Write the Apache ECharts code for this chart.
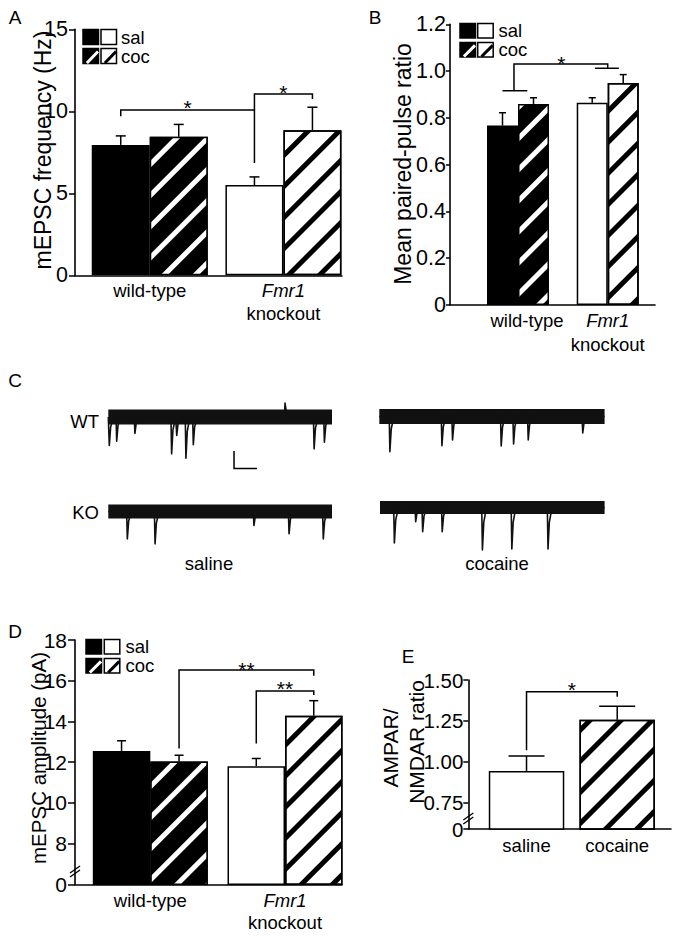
<!DOCTYPE html>
<html>
<head>
<meta charset="utf-8">
<script src="https://cdn.jsdelivr.net/npm/echarts@6.0.0/dist/echarts.min.js"></script>
<style>html,body{margin:0;padding:0;background:#fff;} #chart{width:680px;height:936px;}</style>
</head>
<body>
<div id="chart"></div>
<script>
// ================= DATA =================
const genotypes = ['wild-type', 'Fmr1 knockout'];
const treatments = ['sal', 'coc'];

// Panel A - mEPSC frequency (Hz)
const freqSal = [7.95, 5.5];
const freqSalSem = [0.55, 0.5];
const freqCoc = [8.45, 8.85];
const freqCocSem = [0.75, 1.4];
const freqTicks = [0, 5, 10, 15];
const freqTickLabels = ['0', '5', '10', '15'];

// Panel B - mean paired-pulse ratio
const pprSal = [0.767, 0.865];
const pprSalSem = [0.055, 0.021];
const pprCoc = [0.859, 0.949];
const pprCocSem = [0.027, 0.036];
const pprTicks = [0, 0.2, 0.4, 0.6, 0.8, 1.0, 1.2];
const pprTickLabels = ['0', '0.2', '0.4', '0.6', '0.8', '1.0', '1.2'];

// Panel D - mEPSC amplitude (pA), broken axis (6 is drawn as the "0" after the break)
const ampSal = [12.55, 11.8];
const ampSalSem = [0.5, 0.38];
const ampCoc = [12.03, 14.28];
const ampCocSem = [0.31, 0.74];
const ampTicks = [6, 8, 10, 12, 14, 16, 18];
const ampTickLabels = ['0', '8', '10', '12', '14', '16', '18'];

// Panel E - AMPAR/NMDAR ratio, broken axis
const drugs = ['saline', 'cocaine'];
const anRatio = [0.943, 1.257];
const anRatioSem = [0.092, 0.082];
const anTicks = [0.587, 0.75, 1.0, 1.25, 1.5];
const anTickLabels = ['0', '0.75', '1.00', '1.25', '1.50'];

// Significance brackets: polyline points [group, offset in bar widths, value]
const freqBrackets = [
  [[0, -0.5, 9.7], [0, -0.5, 10.08], [1, -0.5, 10.08]],
  [[1, -0.5, 6.85], [1, -0.5, 11.05], [1, 0.5, 11.05], [1, 0.5, 10.75]]
];
const freqStars = [[0.5, -0.5, 10.5, '*'], [1, 0, 11.42, '*']];
const pprBrackets = [
  [[0, -0.5, 0.916], [0, 0.3, 0.916]],
  [[0, -0.13, 0.916], [0, -0.13, 1.03], [1, 0, 1.03], [1, 0, 1.012]],
  [[1, -0.41, 1.012], [1, 0.36, 1.012]]
];
const pprStars = [[0.5, -0.05, 1.052, '*']];
const ampBrackets = [
  [[0, 0.5, 12.67], [0, 0.5, 16.53], [1, 0.5, 16.53], [1, 0.5, 16.25]],
  [[1, -0.5, 12.92], [1, -0.5, 15.49], [1, 0.5, 15.49], [1, 0.5, 15.3]]
];
const ampStars = [[0.5, 0.5, 16.77, '**'], [1, 0, 15.84, '**']];
const anBrackets = [
  [[0, 0, 1.07], [0, 0, 1.428], [1, 0, 1.428], [1, 0, 1.398]]
];
const anStars = [[0.5, 0, 1.469, '*']];

// Panel C - example traces: events [time (% of sweep), amplitude (pA, inward)]
const traceWTsaline = [[0.45, 16.5], [3.75, 14], [11.9, 9.5], [28.3, 21.3], [30.6, 10.7], [34.7, 23.8], [38, 16], [79, -8], [92, 18.4], [96.6, 14.6]];
const traceWTcocaine = [[4.7, 20.3], [27.8, 16.9], [32.5, 13.6], [54.1, 17], [59.6, 15.9], [66.1, 13.6], [90.3, 9.5]];
const traceKOsaline = [[8.5, 15.8], [20.9, 18.7], [65.1, 8.1], [80.8, 12.9], [96.1, 15.8]];
const traceKOcocaine = [[6.4, 20.5], [15.9, 8.2], [19, 14], [27.7, 14], [45.6, 24.6], [58.7, 24], [74.8, 24]];
const scaleBarPA = 10;      // vertical scale bar (pA)
const scaleBarPct = 10.3;   // horizontal scale bar (% of sweep)

// ================= RENDER =================
const FONT = "'Liberation Sans', Arial, Helvetica, sans-serif";
const BLACK = '#000000';
const WHITE = '#ffffff';

function stripeDecal(color) {
  return { symbol: 'rect', symbolSize: 1, color: color, dashArrayX: [1, 0], dashArrayY: [4.5, 16.5], rotation: -Math.PI / 4 };
}

function tickFormatter(values, labels) {
  return function (v) {
    const i = values.findIndex(t => Math.abs(t - v) < 1e-6);
    return i >= 0 ? labels[i] : '';
  };
}

function genotypeLabel(name, padWT) {
  if (name.indexOf('Fmr1') === 0) return '{i|Fmr1}\n{n|knockout}';
  return padWT ? '{nb|' + name + '}' : '{n|' + name + '}';
}

function richCat(fs, lh) {
  return {
    n: { fontSize: fs, fontFamily: FONT, color: BLACK, lineHeight: lh },
    nb: { fontSize: fs, fontFamily: FONT, color: BLACK, lineHeight: lh, padding: [0, 0, 0, 18] },
    i: { fontSize: fs, fontFamily: FONT, color: BLACK, lineHeight: lh, fontStyle: 'italic' }
  };
}

const grids = [], xAxes = [], yAxes = [], series = [], graphics = [];

function addBarPanel(p) {
  const gi = grids.length;
  grids.push({ left: p.left, top: p.top, width: p.width, height: p.height });
  xAxes.push({
    gridIndex: gi, type: 'value', min: p.xMin, max: p.xMax,
    axisLine: { show: true, onZero: false, lineStyle: { color: BLACK, width: 1.6 } },
    axisTick: { show: false }, splitLine: { show: false },
    axisLabel: {
      show: true, customValues: p.cats.map((c, i) => i),
      formatter: v => p.catFmt(p.cats[Math.round(v)]),
      margin: p.catMargin, rich: richCat(18.5, p.catLH)
    }
  });
  yAxes.push({
    gridIndex: gi, type: 'value', min: p.yMin, max: p.yMax,
    axisLine: { show: true, onZero: false, lineStyle: { color: BLACK, width: 1.6 } },
    axisTick: { show: true, inside: false, length: p.tickLen, customValues: p.ticks, lineStyle: { color: BLACK, width: 1.5 } },
    axisLabel: { show: true, customValues: p.ticks, formatter: tickFormatter(p.ticks, p.tickLabels), margin: p.labelMargin, color: BLACK, fontFamily: FONT, fontSize: p.tickFont },
    splitLine: { show: false }
  });
  p.bars.forEach(b => {
    series.push({
      type: 'bar', xAxisIndex: gi, yAxisIndex: gi, barWidth: p.barW, barGap: '0%', silent: true, animation: false, clip: true, z: 2,
      itemStyle: { borderColor: BLACK, borderWidth: 1.5 },
      data: b.mean.map((v, g) => ({
        value: [g, v],
        itemStyle: b.hatch[g] ? { color: p.fill[g], decal: stripeDecal(p.stripe[g]) } : { color: p.fill[g] }
      }))
    });
  });
  p.bars.forEach((b, bi) => {
    const off = bi - (p.bars.length - 1) / 2;
    series.push({
      type: 'custom', xAxisIndex: gi, yAxisIndex: gi, silent: true, animation: false, z: 3,
      data: b.mean.map((v, g) => [g, v, v + b.sem[g]]),
      renderItem: function (params, api) {
        const lo = api.coord([api.value(0), api.value(1)]);
        const hi = api.coord([api.value(0), api.value(2)]);
        const x = lo[0] + off * p.barW;
        return {
          type: 'group', children: [
            { type: 'line', shape: { x1: x, y1: lo[1], x2: x, y2: hi[1] }, style: { stroke: BLACK, lineWidth: 1.5 } },
            { type: 'line', shape: { x1: x - p.cap / 2, y1: hi[1], x2: x + p.cap / 2, y2: hi[1] }, style: { stroke: BLACK, lineWidth: 1.5 } }
          ]
        };
      }
    });
  });
  series.push({
    type: 'custom', xAxisIndex: gi, yAxisIndex: gi, silent: true, animation: false, z: 5,
    data: [[0, p.yMax]],
    renderItem: function (params, api) {
      const P = (g, o, y) => { const c = api.coord([g, y]); return [c[0] + o * p.barW, c[1]]; };
      const children = p.brackets.map(b => ({
        type: 'polyline', shape: { points: b.map(q => P(q[0], q[1], q[2])) },
        style: { stroke: BLACK, lineWidth: 1.5, fill: null }
      }));
      p.stars.forEach(s => {
        const q = P(s[0], s[1], s[2]);
        children.push({ type: 'text', x: q[0], y: q[1] + 4.5, style: { text: s[3], fill: BLACK, fontSize: 21, fontFamily: FONT, align: 'center', verticalAlign: 'middle' } });
      });
      return { type: 'group', children: children };
    }
  });
}

// Panel A
addBarPanel({
  left: 75, top: 29.3, width: 267, height: 246, xMin: -0.559, xMax: 1.438,
  yMin: 0, yMax: 15, ticks: freqTicks, tickLabels: freqTickLabels, tickLen: 6, labelMargin: 7, tickFont: 21.5,
  cats: genotypes, catFmt: n => genotypeLabel(n, false), catMargin: 4, catLH: 23,
  barW: 58, cap: 10, fill: [BLACK, WHITE], stripe: [WHITE, BLACK],
  bars: [{ mean: freqSal, sem: freqSalSem, hatch: [false, false] }, { mean: freqCoc, sem: freqCocSem, hatch: [true, true] }],
  brackets: freqBrackets, stars: freqStars
});
// Panel B
addBarPanel({
  left: 450, top: 24.3, width: 205, height: 280.7, xMin: -0.758, xMax: 1.527,
  yMin: 0, yMax: 1.2, ticks: pprTicks, tickLabels: pprTickLabels, tickLen: 4, labelMargin: 4, tickFont: 21.5,
  cats: genotypes, catFmt: n => genotypeLabel(n, true), catMargin: 3, catLH: 24,
  barW: 31, cap: 7, fill: [BLACK, WHITE], stripe: [WHITE, BLACK],
  bars: [{ mean: pprSal, sem: pprSalSem, hatch: [false, false] }, { mean: pprCoc, sem: pprCocSem, hatch: [true, true] }],
  brackets: pprBrackets, stars: pprStars
});
// Panel D
addBarPanel({
  left: 75, top: 640, width: 267, height: 244.3, xMin: -0.559, xMax: 1.423,
  yMin: 6, yMax: 18, ticks: ampTicks, tickLabels: ampTickLabels, tickLen: 7, labelMargin: 8, tickFont: 21,
  cats: genotypes, catFmt: n => genotypeLabel(n, false), catMargin: 5, catLH: 22,
  barW: 57.5, cap: 9, fill: [BLACK, WHITE], stripe: [WHITE, BLACK],
  bars: [{ mean: ampSal, sem: ampSalSem, hatch: [false, false] }, { mean: ampCoc, sem: ampCocSem, hatch: [true, true] }],
  brackets: ampBrackets, stars: ampStars
});
// Panel E
addBarPanel({
  left: 468.3, top: 680, width: 202.7, height: 149, xMin: -0.642, xMax: 1.593,
  yMin: 0.587, yMax: 1.5, ticks: anTicks, tickLabels: anTickLabels, tickLen: 5, labelMargin: 5, tickFont: 20.5,
  cats: drugs, catFmt: n => '{n|' + n + '}', catMargin: 5, catLH: 22,
  barW: 75.5, cap: 36, fill: [WHITE, WHITE], stripe: [BLACK, BLACK],
  bars: [{ mean: anRatio, sem: anRatioSem, hatch: [false, true] }],
  brackets: anBrackets, stars: anStars
});

// Panel C traces
const TR_MIN = -35, TR_MAX = 10;
function spikePoints(events) {
  const pts = [[0, 0]];
  events.slice().sort((a, b) => a[0] - b[0]).forEach(e => {
    const t = e[0], a = e[1];
    pts.push([t - 0.3, 0], [t, -a], [t + 0.6, -a * 0.35], [t + 1.8, 0]);
  });
  pts.push([100, 0]);
  return pts;
}
function addTrace(t) {
  const gi = grids.length;
  grids.push({ left: t.x0, top: t.yc - TR_MAX * t.k, width: t.x1 - t.x0, height: (TR_MAX - TR_MIN) * t.k });
  xAxes.push({ gridIndex: gi, type: 'value', min: 0, max: 100, show: false });
  yAxes.push({ gridIndex: gi, type: 'value', min: TR_MIN, max: TR_MAX, show: false });
  const base = { type: 'line', xAxisIndex: gi, yAxisIndex: gi, symbol: 'none', silent: true, animation: false, clip: false };
  series.push(Object.assign({}, base, { data: [[0, 0], [100, 0]], lineStyle: { color: '#111111', width: t.core } }));
  series.push(Object.assign({}, base, { data: spikePoints(t.events), lineStyle: { color: '#111111', width: 1.6, join: 'round' } }));
  if (t.scaleBar) {
    const sx = 56.2, sy = -19.7;
    series.push(Object.assign({}, base, {
      data: [[sx, sy], [sx, sy - scaleBarPA], [sx + scaleBarPct, sy - scaleBarPA]],
      lineStyle: { color: BLACK, width: 1.5, join: 'miter' }
    }));
  }
}
addTrace({ x0: 108.3, x1: 332, yc: 417, k: 1.73, core: 15, events: traceWTsaline, scaleBar: true });
addTrace({ x0: 379.3, x1: 604.6, yc: 416.5, k: 1.73, core: 15, events: traceWTcocaine });
addTrace({ x0: 108.3, x1: 332, yc: 511.5, k: 1.73, core: 14, events: traceKOsaline });
addTrace({ x0: 380, x1: 604.6, yc: 507.5, k: 1.73, core: 13, events: traceKOcocaine });

// ---- graphic decorations: panel letters, axis titles, legends, labels, axis breaks ----
function text(x, y, str, fs, align) {
  graphics.push({
    type: 'text', x: x, y: y, silent: true,
    style: { text: str, fill: BLACK, fontSize: fs, fontFamily: FONT, align: align || 'center', verticalAlign: 'middle' }
  });
}
function vtext(x, y, str, fs) {
  graphics.push({ type: 'text', x: x, y: y, rotation: Math.PI / 2, silent: true,
    style: { text: str, fill: BLACK, fontSize: fs, fontFamily: FONT, align: 'center', verticalAlign: 'middle' } });
}
// panel letters
text(15, 17, 'A', 19); text(375, 17, 'B', 19); text(15, 380, 'C', 19); text(15, 631, 'D', 19); text(408, 656, 'E', 19);
// axis titles
vtext(43, 150, 'mEPSC frequency (Hz)', 23);
vtext(403, 164, 'Mean paired-pulse ratio', 23);
vtext(38.5, 758, 'mEPSC amplitude (pA)', 20.5);
vtext(390, 748, 'AMPAR/', 21);
vtext(416.5, 742, 'NMDAR ratio', 21);
// trace labels
text(99, 421.5, 'WT', 18.5, 'right');
text(99, 512.5, 'KO', 18.5, 'right');
text(209, 563, 'saline', 18.5);
text(497, 563, 'cocaine', 18.5);

// legends
function legend(x, y, w, h, gap, rowStep, textX, fs) {
  const sq = (sx, sy, fill) => ({ type: 'rect', shape: { x: sx, y: sy, width: w, height: h }, style: { fill: fill, stroke: BLACK, lineWidth: 1.5 } });
  const diag = (sx, sy, col, lw) => ({ type: 'line', shape: { x1: sx + 0.25 * w, y1: sy + h - 0.5, x2: sx + w - 0.5, y2: sy + 0.2 * h }, style: { stroke: col, lineWidth: lw } });
  const x2 = x + w + gap, y2 = y + rowStep;
  const lbl = (ty, str) => ({ type: 'text', x: textX, y: ty, style: { text: str, fill: BLACK, fontSize: fs, lineHeight: 17, fontFamily: FONT, align: 'left', verticalAlign: 'middle' } });
  graphics.push({
    type: 'group', silent: true, children: [
      sq(x, y, BLACK), sq(x2, y, WHITE),
      sq(x, y2, BLACK), diag(x, y2, WHITE, 3), sq(x2, y2, WHITE), diag(x2, y2, BLACK, 3),
      lbl(y + h / 2, treatments[0]), lbl(y2 + h / 2, treatments[1])
    ]
  });
}
legend(83, 29.5, 15.5, 15, 2.5, 19, 121, 18.5);
legend(460, 23.5, 15.5, 14.5, 2.2, 19, 498.5, 18.5);
legend(86, 639.5, 15.5, 14.5, 2.8, 19, 125.5, 18.5);

// axis breaks
function axisBreak(x, y) {
  graphics.push({
    type: 'group', silent: true, z: 100, children: [
      { type: 'polygon', shape: { points: [[x - 5, y + 2], [x + 5, y - 5], [x + 5, y - 1], [x - 5, y + 6]] }, style: { fill: WHITE, stroke: null } },
      { type: 'line', shape: { x1: x - 5, y1: y + 2, x2: x + 5, y2: y - 5 }, style: { stroke: BLACK, lineWidth: 1.4 } },
      { type: 'line', shape: { x1: x - 5, y1: y + 6, x2: x + 5, y2: y - 1 }, style: { stroke: BLACK, lineWidth: 1.4 } }
    ]
  });
}
axisBreak(75, 871);
axisBreak(468.3, 818);

const chart = echarts.init(document.getElementById('chart'), null, { renderer: 'svg', width: 680, height: 936 });
chart.setOption({
  animation: false,
  backgroundColor: WHITE,
  textStyle: { fontFamily: FONT, color: BLACK },
  grid: grids, xAxis: xAxes, yAxis: yAxes, series: series, graphic: graphics
});
</script>
</body>
</html>
